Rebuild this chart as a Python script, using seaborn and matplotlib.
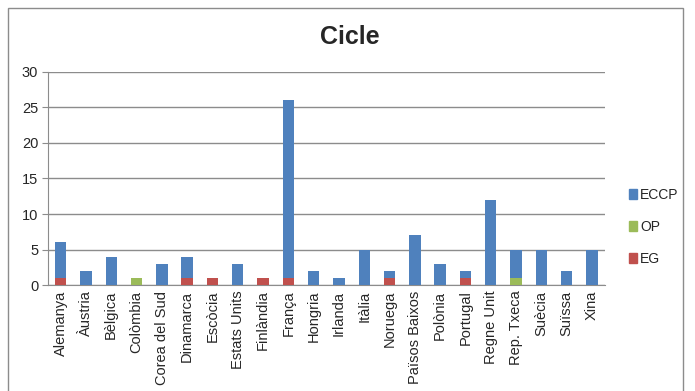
import numpy as np
import pandas as pd
import matplotlib
matplotlib.use("Agg")
import matplotlib.pyplot as plt
from matplotlib.patches import Rectangle, Patch
import seaborn as sns

countries = ["Alemanya", "Àustria", "Bèlgica", "Colòmbia", "Corea del Sud", "Dinamarca",
             "Escòcia", "Estats Units", "Finlàndia", "França", "Hongria", "Irlanda",
             "Itàlia", "Noruega", "Països Baixos", "Polònia", "Portugal", "Regne Unit",
             "Rep. Txeca", "Suècia", "Suïssa", "Xina"]
eg   = [1, 0, 0, 0, 0, 1, 1, 0, 1, 1, 0, 0, 0, 1, 0, 0, 1, 0, 0, 0, 0, 0]
op   = [0, 0, 0, 1, 0, 0, 0, 0, 0, 0, 0, 0, 0, 0, 0, 0, 0, 0, 1, 0, 0, 0]
eccp = [5, 2, 4, 0, 3, 3, 0, 3, 0, 25, 2, 1, 5, 1, 7, 3, 1, 12, 4, 5, 2, 5]

colors = {"ECCP": "#4F81BD", "OP": "#9BBB59", "EG": "#C0504D"}

df = pd.DataFrame({"pais": countries, "EG": eg, "OP": op, "ECCP": eccp})
df["cum_EG"] = df["EG"]
df["cum_OP"] = df["EG"] + df["OP"]
df["cum_ECCP"] = df["cum_OP"] + df["ECCP"]

sns.set_style("white")
plt.rcParams["font.family"] = ["Liberation Sans", "DejaVu Sans"]

fig = plt.figure(figsize=(6.95, 3.91), dpi=100)
ax = fig.add_axes([0.069, 0.271, 0.801, 0.545])

# stacked bars drawn as overlapping cumulative totals
for serie in ["ECCP", "OP", "EG"]:
    sns.barplot(data=df, x="pais", y="cum_" + serie, color=colors[serie],
                width=0.45, saturation=1, ax=ax, errorbar=None, zorder=3,
                linewidth=0, edgecolor=colors[serie])

ax.set_xlim(-0.5, len(countries) - 0.5)
ax.set_ylim(0, 30)
ax.set_yticks(range(0, 31, 5))
ax.yaxis.grid(True, color="#8C8C8C", linewidth=1, zorder=0)
ax.set_axisbelow(True)
ax.set_xlabel("")
ax.set_ylabel("")

for s in ["top", "right"]:
    ax.spines[s].set_visible(False)
for s in ["left", "bottom"]:
    ax.spines[s].set_color("#8C8C8C")

ax.tick_params(axis="x", which="major", length=0, labelrotation=90, labelsize=10.5, pad=4)
ax.set_xticks(np.arange(-0.5, len(countries), 1), minor=True)
ax.tick_params(axis="x", which="minor", length=5, color="#8C8C8C", direction="out")
ax.tick_params(axis="y", length=4, color="#8C8C8C", labelsize=10.5, pad=3, left=True)

fig.text(0.503, 0.905, "Cicle", ha="center", va="center", fontsize=18, fontweight="bold")

handles = [Patch(color=colors[k], label=k) for k in ["ECCP", "OP", "EG"]]
fig.legend(handles=handles, loc="center left", bbox_to_anchor=(0.893, 0.42), frameon=False,
           fontsize=10, handlelength=0.55, handleheight=0.7, handletextpad=0.25,
           labelspacing=1.3, borderaxespad=0.2)

fig.patches.append(Rectangle((8 / 695, -0.02), 675 / 695, 1.02 - 8 / 391, transform=fig.transFigure,
                             fill=False, edgecolor="#8C8C8C", linewidth=1))

fig.savefig("out.png", dpi=100)
